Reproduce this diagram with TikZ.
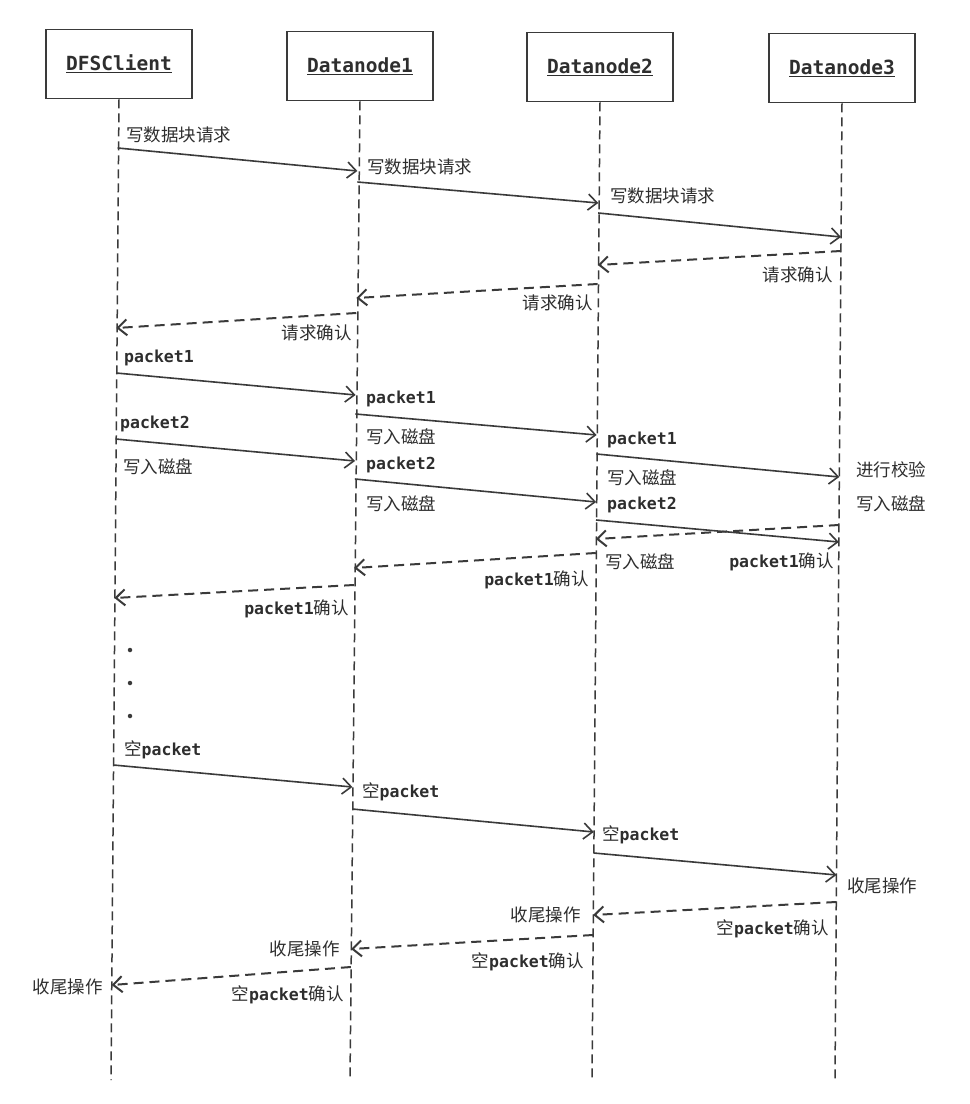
\documentclass[tikz,border=0pt]{standalone}
\usepackage{fontspec}
\usetikzlibrary{arrows.meta,calc}
\newfontfamily\mono{DejaVu Sans Mono}
\newfontfamily\cjk{Noto Sans CJK SC}
\definecolor{ink}{HTML}{3A3A3A}
\definecolor{txt}{HTML}{2E2E2E}
\newcommand\lp[3]{\coordinate (#3) at ($(t#1)!{(#2-100)/980}!(b#1)$);}
\newcommand\zhtxt[1]{{\cjk\mdseries\fontsize{17.5}{20}\selectfont #1}}
\begin{document}
\begin{tikzpicture}[x=1pt,y=-1pt,
  actor/.style={draw=ink, line width=1.8pt, minimum width=146pt, minimum height=69pt, inner sep=0pt,
    font=\mono\bfseries\fontsize{19.5}{22}\selectfont, text=txt},
  life/.style={draw=ink, line width=1.5pt, dash pattern=on 9pt off 5pt},
  call/.style={draw=ink, line width=1.6pt, -{Straight Barb[length=9pt,width=16pt]}},
  reply/.style={call, line width=2pt, dash pattern=on 10pt off 6pt},
  lbl/.style={inner sep=0pt, text=txt, font=\mono\bfseries\fontsize{16.5}{18}\selectfont},
  dotmark/.style={circle, fill=ink, inner sep=0pt, minimum size=4.5pt},
]
\useasboundingbox (0,0) rectangle (970,1104);
\fill[white] (0,0) rectangle (970,1104);

% actors
\node[actor] (dfs) at (119,64) {\underline{DFSClient}};
\node[actor] (dn1) at (360,66) {\underline{Datanode1}};
\node[actor] (dn2) at (600,67) {\underline{Datanode2}};
\node[actor] (dn3) at (842,68) {\underline{Datanode3}};

% lifelines
\coordinate (t0) at (118,100); \coordinate (b0) at (111,1080);
\coordinate (t1) at (358,100); \coordinate (b1) at (350,1080);
\coordinate (t2) at (599,100); \coordinate (b2) at (592,1080);
\coordinate (t3) at (842,100); \coordinate (b3) at (835,1080);
\draw[life] (dfs.south) -- (b0);
\draw[life] (dn1.south) -- (b1);
\draw[life] (dn2.south) -- (b2);
\draw[life] (dn3.south) -- (b3);

% message end points
\lp{0}{148}{m1s} \lp{1}{171}{m1e}
\lp{1}{182}{m2s} \lp{2}{203}{m2e}
\lp{2}{213}{m3s} \lp{3}{237}{m3e}
\lp{3}{251}{m4s} \lp{2}{265}{m4e}
\lp{2}{284}{m5s} \lp{1}{298}{m5e}
\lp{1}{313}{m6s} \lp{0}{328}{m6e}
\lp{0}{373}{m7s} \lp{1}{395}{m7e}
\lp{1}{414}{m8s} \lp{2}{435}{m8e}
\lp{0}{439}{m9s} \lp{1}{461}{m9e}
\lp{1}{479}{m10s} \lp{2}{502}{m10e}
\lp{2}{454}{m11s} \lp{3}{477}{m11e}
\lp{2}{520}{m12s} \lp{3}{542}{m12e}
\lp{3}{525}{m13s} \lp{2}{539}{m13e}
\lp{2}{553}{m14s} \lp{1}{568}{m14e}
\lp{1}{585}{m15s} \lp{0}{598}{m15e}
\lp{0}{765}{m16s} \lp{1}{787}{m16e}
\lp{1}{809}{m17s} \lp{2}{832}{m17e}
\lp{2}{853}{m18s} \lp{3}{875}{m18e}
\lp{3}{902}{m19s} \lp{2}{915}{m19e}
\lp{2}{935}{m20s} \lp{1}{949}{m20e}
\lp{1}{967}{m21s} \lp{0}{985}{m21e}

% messages
\draw[call] (m1s) -- (m1e);
\draw[call] (m2s) -- (m2e);
\draw[call] (m3s) -- (m3e);
\draw[reply] (m4s) -- (m4e);
\draw[reply] (m5s) -- (m5e);
\draw[reply] (m6s) -- (m6e);
\draw[call] (m7s) -- (m7e);
\draw[call] (m8s) -- (m8e);
\draw[call] (m9s) -- (m9e);
\draw[call] (m10s) -- (m10e);
\draw[call] (m11s) -- (m11e);
\draw[call] (m12s) -- (m12e);
\draw[reply] (m13s) -- (m13e);
\draw[reply] (m14s) -- (m14e);
\draw[reply] (m15s) -- (m15e);
\draw[call] (m16s) -- (m16e);
\draw[call] (m17s) -- (m17e);
\draw[call] (m18s) -- (m18e);
\draw[reply] (m19s) -- (m19e);
\draw[reply] (m20s) -- (m20e);
\draw[reply] (m21s) -- (m21e);

% labels
\node[lbl, anchor=west] (l1) at (126,135) {\zhtxt{写数据块请求}};
\node[lbl, anchor=west] (l2) at (367,167) {\zhtxt{写数据块请求}};
\node[lbl, anchor=west] (l3) at (610,196) {\zhtxt{写数据块请求}};
\node[lbl, anchor=east] (l4) at (833,275) {\zhtxt{请求确认}};
\node[lbl, anchor=east] (l5) at (593,303) {\zhtxt{请求确认}};
\node[lbl, anchor=east] (l6) at (352,333) {\zhtxt{请求确认}};

\node[lbl, anchor=west] (l7) at (124,358) {packet1};
\node[lbl, anchor=west] (l8a) at (366,399) {packet1};
\node[lbl, anchor=west] (l8b) at (366,437) {\zhtxt{写入磁盘}};
\node[lbl, anchor=west] (l9a) at (120,424) {packet2};
\node[lbl, anchor=west] (l9b) at (123,467) {\zhtxt{写入磁盘}};
\node[lbl, anchor=west] (l10a) at (366,465) {packet2};
\node[lbl, anchor=west] (l10b) at (366,504) {\zhtxt{写入磁盘}};
\node[lbl, anchor=west] (l11a) at (607,440) {packet1};
\node[lbl, anchor=west] (l11b) at (607,478) {\zhtxt{写入磁盘}};
\node[lbl, anchor=west] (l11c) at (856,470) {\zhtxt{进行校验}};
\node[lbl, anchor=west] (l11d) at (856,504) {\zhtxt{写入磁盘}};
\node[lbl, anchor=west] (l12a) at (607,505) {packet2};
\node[lbl, anchor=west] (l12b) at (605,562) {\zhtxt{写入磁盘}};
\node[lbl, anchor=east] (l13) at (834,562) {packet1\zhtxt{确认}};
\node[lbl, anchor=east] (l14) at (589,580) {packet1\zhtxt{确认}};
\node[lbl, anchor=east] (l15) at (349,609) {packet1\zhtxt{确认}};

\node[dotmark] (d1) at (130,650) {};
\node[dotmark] (d2) at (130,683) {};
\node[dotmark] (d3) at (130,716) {};

\node[lbl, anchor=west] (l16) at (124,750) {\zhtxt{空}packet};
\node[lbl, anchor=west] (l17) at (362,792) {\zhtxt{空}packet};
\node[lbl, anchor=west] (l18a) at (602,835) {\zhtxt{空}packet};
\node[lbl, anchor=west] (l18b) at (847,886) {\zhtxt{收尾操作}};
\node[lbl, anchor=east] (l19a) at (829,929) {\zhtxt{空}packet\zhtxt{确认}};
\node[lbl, anchor=east] (l19b) at (581,915) {\zhtxt{收尾操作}};
\node[lbl, anchor=east] (l20a) at (584,962) {\zhtxt{空}packet\zhtxt{确认}};
\node[lbl, anchor=east] (l20b) at (340,949) {\zhtxt{收尾操作}};
\node[lbl, anchor=east] (l21a) at (344,995) {\zhtxt{空}packet\zhtxt{确认}};
\node[lbl, anchor=east] (l21b) at (103,987) {\zhtxt{收尾操作}};
\end{tikzpicture}
\end{document}
